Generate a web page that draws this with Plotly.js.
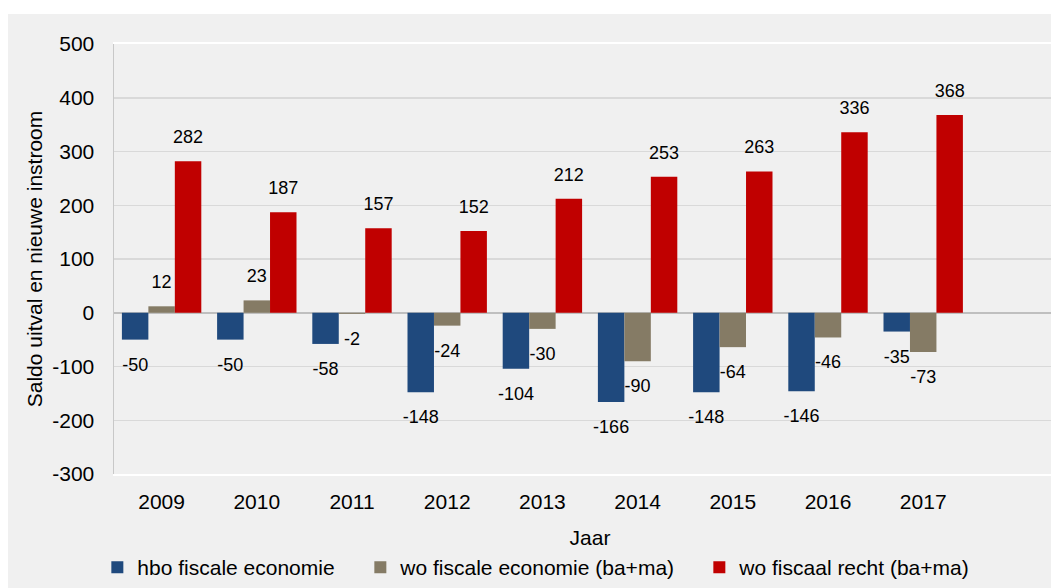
<!DOCTYPE html>
<html>
<head>
<meta charset="utf-8">
<script src="https://cdn.plot.ly/plotly-3.0.1.min.js"></script>
<style>
  html, body { margin: 0; padding: 0; background: #ffffff; overflow: hidden; width: 1051px; height: 588px; }
  #chart { position: absolute; left: 8px; top: 14px; width: 1058px; height: 574px; }
</style>
</head>
<body>
<div id="chart"></div>
<script>
const years = ['2009', '2010', '2011', '2012', '2013', '2014', '2015', '2016', '2017'];
const hboFiscaleEconomie = [-50, -50, -58, -148, -104, -166, -148, -146, -35];
const woFiscaleEconomie = [12, 23, -2, -24, -30, -90, -64, -46, -73];
const woFiscaalRecht = [282, 187, 157, 152, 212, 253, 263, 336, 368];
const seriesNames = ['hbo fiscale economie', 'wo fiscale economie (ba+ma)', 'wo fiscaal recht (ba+ma)'];
const seriesColors = ['#1f497d', '#857b65', '#c00000'];
const yTickValues = [-300, -200, -100, 0, 100, 200, 300, 400, 500];
const yTickLabels = ['-300', '-200', '-100', '0', '100', '200', '300', '400', '500'];
const yTitle = 'Saldo uitval en nieuwe instroom';
const xTitle = 'Jaar';

const FONT = 'Liberation Sans, Arial, sans-serif';
const LABEL_SIZE = 18;

function labelTemplates(vals) {
  const num = "<span style='font-size:" + LABEL_SIZE + "px'>%{text}</span>";
  return vals.map(v => v >= 0
    ? num + '<br>\u00a0'
    : "<span style='font-size:2px'>\u00a0</span><br>\u00a0<br>" + num);
}

const allSeries = [hboFiscaleEconomie, woFiscaleEconomie, woFiscaalRecht];
const legendWidths = [218, 294, 250];
const traces = allSeries.map((vals, i) => ({
  type: 'bar',
  name: seriesNames[i],
  x: years,
  y: vals,
  text: vals.map(v => String(v)),
  marker: { color: seriesColors[i], line: { width: 0 } },
  texttemplate: labelTemplates(vals),
  textposition: 'outside',
  constraintext: 'none',
  cliponaxis: false,
  textfont: { family: FONT, size: 10, color: '#000000' },
  legendwidth: legendWidths[i],
  hoverinfo: 'skip'
}));

const layout = {
  width: 1058,
  height: 574,
  margin: { l: 106, r: 0, t: 30, b: 113 },
  paper_bgcolor: '#f0f0f0',
  plot_bgcolor: '#f0f0f0',
  font: { family: FONT, size: 21, color: '#000000' },
  barmode: 'group',
  bargap: 0.166,
  bargroupgap: 0,
  showlegend: true,
  legend: {
    orientation: 'h',
    x: -0.0175, xanchor: 'left',
    y: -0.218, yanchor: 'middle',
    font: { family: FONT, size: 21, color: '#000000' },
    bgcolor: 'rgba(0,0,0,0)',
    traceorder: 'normal'
  },
  xaxis: {
    type: 'category',
    range: [-0.5, 9.5],
    showgrid: false,
    zeroline: false,
    showline: true,
    linecolor: '#ffffff',
    linewidth: 2,
    mirror: true,
    ticks: '',
    ticklabelstandoff: 8,
    tickfont: { family: FONT, size: 21, color: '#000000' },
    title: { text: xTitle, font: { family: FONT, size: 21, color: '#000000' }, standoff: 18 },
    fixedrange: true
  },
  yaxis: {
    range: [-300, 500],
    tickmode: 'array',
    tickvals: yTickValues,
    ticktext: yTickLabels,
    showgrid: true,
    gridcolor: '#d9d9d9',
    gridwidth: 1.5,
    zeroline: true,
    zerolinecolor: '#bfbfbf',
    zerolinewidth: 2,
    showline: true,
    linecolor: '#c8c8c8',
    linewidth: 1.5,
    ticks: '',
    ticklabelstandoff: 14,
    tickfont: { family: FONT, size: 21, color: '#000000' },
    title: { text: yTitle, font: { family: FONT, size: 21, color: '#000000' }, standoff: 4 },
    fixedrange: true
  }
};

Plotly.newPlot('chart', traces, layout, { displayModeBar: false, staticPlot: true });
</script>
</body>
</html>
